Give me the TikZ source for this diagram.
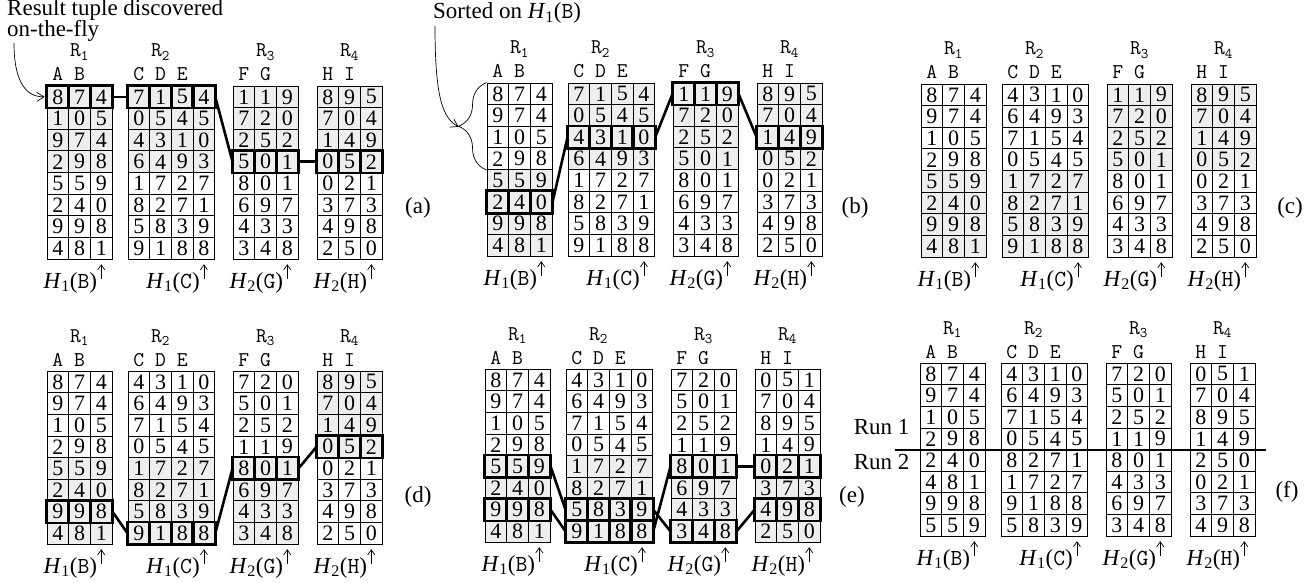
\documentclass[tikz,border=0pt]{standalone}
\usepackage{fontspec}
\setmainfont{Liberation Serif}
\usetikzlibrary{arrows.meta,positioning,calc,decorations.pathreplacing}

\newcommand{\cw}{21.7}
\newcommand{\ch}{21.65}
\newcommand{\cellfont}{\fontsize{22}{22}\selectfont}
\newcommand{\txtfont}{\fontsize{23}{18}\selectfont}
\newcommand{\attfont}{\fontsize{21}{21}\selectfont\ttfamily}
\newcommand{\hashof}[2]{\textit{H}\textsubscript{#1}(\texttt{#2})}

% tuples of the four relations, in the orders used by the panels
\newcommand{\RoneA}{{8,7,4},{1,0,5},{9,7,4},{2,9,8},{5,5,9},{2,4,0},{9,9,8},{4,8,1}}
\newcommand{\RoneB}{{8,7,4},{9,7,4},{1,0,5},{2,9,8},{5,5,9},{2,4,0},{9,9,8},{4,8,1}}
\newcommand{\RoneF}{{8,7,4},{9,7,4},{1,0,5},{2,9,8},{2,4,0},{4,8,1},{9,9,8},{5,5,9}}
\newcommand{\RtwoA}{{7,1,5,4},{0,5,4,5},{4,3,1,0},{6,4,9,3},{1,7,2,7},{8,2,7,1},{5,8,3,9},{9,1,8,8}}
\newcommand{\RtwoC}{{4,3,1,0},{6,4,9,3},{7,1,5,4},{0,5,4,5},{1,7,2,7},{8,2,7,1},{5,8,3,9},{9,1,8,8}}
\newcommand{\RtwoF}{{4,3,1,0},{6,4,9,3},{7,1,5,4},{0,5,4,5},{8,2,7,1},{1,7,2,7},{9,1,8,8},{5,8,3,9}}
\newcommand{\RthreeA}{{1,1,9},{7,2,0},{2,5,2},{5,0,1},{8,0,1},{6,9,7},{4,3,3},{3,4,8}}
\newcommand{\RthreeD}{{7,2,0},{5,0,1},{2,5,2},{1,1,9},{8,0,1},{6,9,7},{4,3,3},{3,4,8}}
\newcommand{\RthreeF}{{7,2,0},{5,0,1},{2,5,2},{1,1,9},{8,0,1},{4,3,3},{6,9,7},{3,4,8}}
\newcommand{\RfourA}{{8,9,5},{7,0,4},{1,4,9},{0,5,2},{0,2,1},{3,7,3},{4,9,8},{2,5,0}}
\newcommand{\RfourE}{{0,5,1},{7,0,4},{8,9,5},{1,4,9},{0,2,1},{3,7,3},{4,9,8},{2,5,0}}
\newcommand{\RfourF}{{0,5,1},{7,0,4},{8,9,5},{1,4,9},{2,5,0},{0,2,1},{3,7,3},{4,9,8}}

% one relation: name, x, y, columns, first grey row (0 = none), tuples
\newcommand{\reltab}[6]{%
  \ifnum#5>0
    \fill[lit] (#2,{#3+(#5-1)*\ch}) rectangle ({#2+#4*\cw},{#3+(#5+3)*\ch});
  \fi
  \foreach \row [count=\r] in #6 {
    \foreach \d [count=\c] in \row
      \node[cell] (#1-\r-\c) at ({#2+(\c-0.5)*\cw},{#3+(\r-0.5)*\ch}) {\d};
  }
}
% relation name, attributes and hashed column: name, x, y, columns, index, attributes, hash label
\newcommand{\relhead}[7]{%
  \node[rellab,anchor=base] (#1-name) at ({#2+1.5*\cw},{#3-29}) {R\textsubscript{#5}};
  \foreach \a [count=\c] in {#6}
    \node[rellab,anchor=base] (#1-att\c) at ({#2+(\c-0.5)*\cw},{#3-5}) {\a};
  \node[hashlab,anchor=base east] (#1-hash) at ({#2+(#4-0.5)*\cw-4},{#3+8*\ch+29}) {#7};
  \draw[hasharr] ([xshift=4pt,yshift=9pt]#1-hash.base east) -- ++(0,-15);
}
% the four heads of a panel: panel, x, y
\newcommand{\heads}[3]{%
  \relhead{#11}{#2}{#3}{3}{1}{A,B}{\hashof{1}{B}}
  \relhead{#12}{#2+81}{#3}{4}{2}{C,D,E}{\hashof{1}{C}}
  \relhead{#13}{#2+186}{#3}{3}{3}{F,G}{\hashof{2}{G}}
  \relhead{#14}{#2+270}{#3}{3}{4}{H,I}{\hashof{2}{H}}
}
% thick borders round the cells of one tuple: name, row, columns
\newcommand{\hlrow}[3]{%
  \foreach \c in {1,...,#3}
    \draw[hl] (#1-#2-\c.north west) rectangle (#1-#2-\c.south east);
}

\begin{document}
\begin{tikzpicture}[x=1pt,y=-1pt,
  cell/.style={draw,line width=0.9pt,minimum width=\cw pt,minimum height=\ch pt,inner sep=0pt,font=\cellfont},
  lit/.style={fill=gray!13},
  hl/.style={line width=2.6pt},
  link/.style={line width=2.6pt},
  rellab/.style={inner sep=0pt,font=\attfont},
  hashlab/.style={inner sep=0pt,font=\txtfont},
  hasharr/.style={line width=0.7pt,-{Straight Barb[length=5pt,width=7pt]}},
  txt/.style={inner sep=0pt,font=\txtfont},
  callout/.style={line width=0.7pt,-{Straight Barb[length=7pt,width=9pt]}},
  sortbrace/.style={line width=0.7pt,decorate,decoration={brace,amplitude=28pt}}]
\useasboundingbox (0,0) rectangle (1315,583);

%% (a)
\heads{a}{47}{86}
\reltab{a1}{47}{86}{3}{1}{\RoneA}
\reltab{a2}{128}{86}{4}{1}{\RtwoA}
\reltab{a3}{233}{86}{3}{1}{\RthreeA}
\reltab{a4}{317}{86}{3}{1}{\RfourA}
\hlrow{a1}{1}{3} \hlrow{a2}{1}{4} \hlrow{a3}{4}{3} \hlrow{a4}{4}{3}
\draw[link] (a1-1-3.east) -- (a2-1-1.west);
\draw[link] (a2-1-4.east) -- (a3-4-1.west);
\draw[link] (a3-4-3.east) -- (a4-4-1.west);
\node[txt] (lab-a) at (418,208) {(a)};

\node[txt,anchor=base west] (found1) at (7,16) {Result tuple discovered};
\node[txt,anchor=base west] (found2) at (7,37) {on-the-fly};
\coordinate (foundtail) at (14,43);
\draw[callout] (foundtail) .. controls (14,85) and (28,97) .. ([xshift=-2pt]a1-1-1.west);

%% (b)
\heads{b}{487}{83}
\reltab{b1}{487}{83}{3}{5}{\RoneB}
\reltab{b2}{568}{83}{4}{1}{\RtwoA}
\reltab{b3}{673}{83}{3}{1}{\RthreeA}
\reltab{b4}{757}{83}{3}{1}{\RfourA}
\hlrow{b1}{6}{3} \hlrow{b2}{3}{4} \hlrow{b3}{1}{3} \hlrow{b4}{3}{3}
\draw[link] (b1-6-3.east) -- (b2-3-1.west);
\draw[link] (b2-3-4.east) -- (b3-1-1.west);
\draw[link] (b3-1-3.east) -- (b4-3-1.west);
\node[txt] (lab-b) at (855,208) {(b)};

\node[txt,anchor=base west] (sorted) at (433,19) {Sorted on \hashof{1}{B}};
\coordinate (sortedtail) at (435,26);
\coordinate (bracetip) at ([xshift=-28pt]b1-2-1.south west);
\draw[sortbrace] (b1-4-1.south west) -- (b1-1-1.north west);
\draw[callout] (sortedtail) .. controls (435,95) and (442,118) .. (bracetip);

%% (c)
\heads{c}{921}{84}
\reltab{c1}{921}{84}{3}{5}{\RoneB}
\reltab{c2}{1002}{84}{4}{5}{\RtwoC}
\reltab{c3}{1107}{84}{3}{1}{\RthreeA}
\reltab{c4}{1191}{84}{3}{1}{\RfourA}
\node[txt] (lab-c) at (1290,208) {(c)};

%% (d)
\heads{d}{47}{371}
\reltab{d1}{47}{371}{3}{5}{\RoneB}
\reltab{d2}{128}{371}{4}{5}{\RtwoC}
\reltab{d3}{233}{371}{3}{5}{\RthreeD}
\reltab{d4}{317}{371}{3}{1}{\RfourA}
\hlrow{d1}{7}{3} \hlrow{d2}{8}{4} \hlrow{d3}{5}{3} \hlrow{d4}{4}{3}
\draw[link] (d1-7-3.east) -- (d2-8-1.west);
\draw[link] (d2-8-4.east) -- (d3-5-1.west);
\draw[link] (d3-5-3.east) -- (d4-4-1.west);
\node[txt] (lab-d) at (418,497) {(d)};

%% (e)
\heads{e}{485}{369}
\reltab{e1}{485}{369}{3}{5}{\RoneB}
\reltab{e2}{566}{369}{4}{5}{\RtwoC}
\reltab{e3}{671}{369}{3}{5}{\RthreeD}
\reltab{e4}{755}{369}{3}{5}{\RfourE}
\hlrow{e1}{5}{3} \hlrow{e1}{7}{3} \hlrow{e2}{7}{4} \hlrow{e2}{8}{4}
\hlrow{e3}{5}{3} \hlrow{e3}{8}{3} \hlrow{e4}{5}{3} \hlrow{e4}{7}{3}
\draw[link] (e1-5-3.east) -- (e2-7-1.west);
\draw[link] (e1-7-3.east) -- (e2-8-1.west);
\draw[link] (e2-7-4.east) -- (e3-8-1.west);
\draw[link] (e2-8-4.east) -- (e3-5-1.west);
\draw[link] (e3-5-3.east) -- (e4-5-1.west);
\draw[link] (e3-8-3.east) -- (e4-7-1.west);
\node[txt] (lab-e) at (852,497) {(e)};

%% (f)
\heads{f}{920}{363}
\reltab{f1}{920}{363}{3}{0}{\RoneF}
\reltab{f2}{1001}{363}{4}{0}{\RtwoF}
\reltab{f3}{1106}{363}{3}{0}{\RthreeF}
\reltab{f4}{1190}{363}{3}{0}{\RfourF}
\draw[link] ([xshift=-25pt]f1-4-1.south west) -- ([xshift=10pt]f4-4-3.south east);
\node[txt,anchor=east] (run1) at ([xshift=-10pt,yshift=12pt]f1-4-1.west) {Run 1};
\node[txt,anchor=east] (run2) at ([xshift=-10pt,yshift=-2pt]f1-5-1.west) {Run 2};
\node[txt] (lab-f) at (1287,492) {(f)};
\end{tikzpicture}
\end{document}
